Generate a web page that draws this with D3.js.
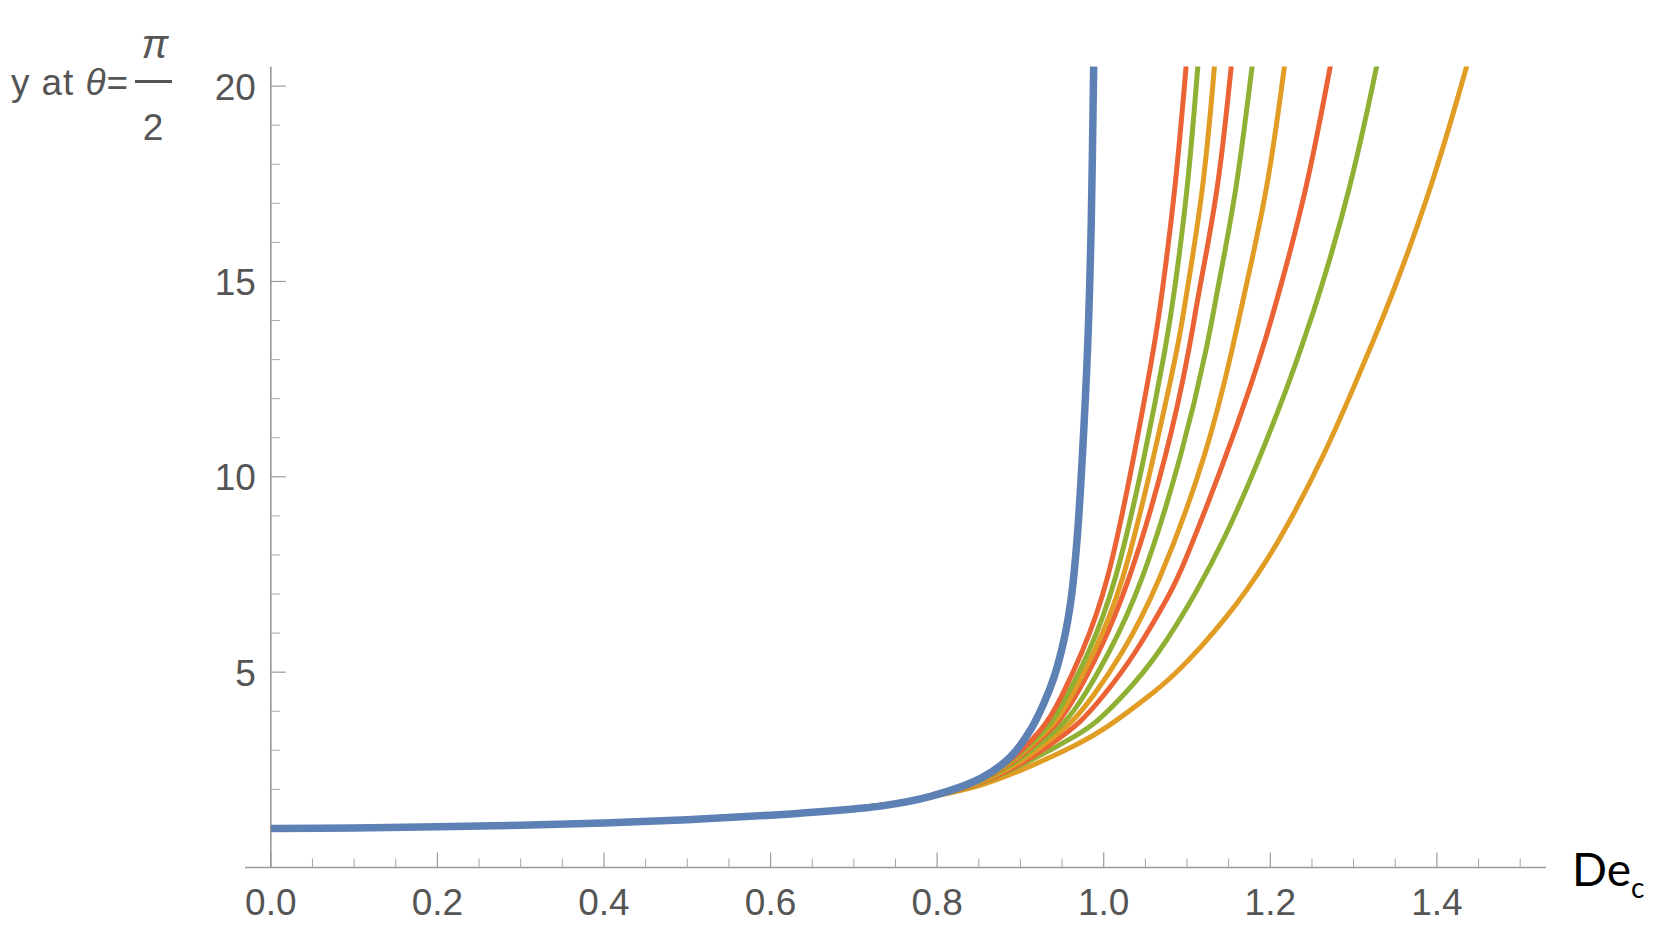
<!DOCTYPE html>
<html>
<head>
<meta charset="utf-8">
<script src="https://cdn.jsdelivr.net/npm/d3@7"></script>
<style>
    body{margin:0;background:#fff;}
    text{font-family:"Liberation Sans",Arial,sans-serif;}
</style>
</head>
<body>
<div class="content"></div>
<script>
const SVGWIDTH = 1673;
const SVGHEIGHT = 949;

// tick values
const x_major = [0.0,0.2,0.4,0.6,0.8,1.0,1.2,1.4];
const x_minor = [0.05,0.1,0.15,0.25,0.3,0.35,0.45,0.5,0.55,0.65,0.7,0.75,0.85,0.9,0.95,1.05,1.1,1.15,1.25,1.3,1.35,1.45,1.5];
const y_major = [5,10,15,20];
const y_minor = [1,2,3,4,6,7,8,9,11,12,13,14,16,17,18,19];

// curves, [De_c, y]
const common_start = [[0,1.0],[0.2,1.04],[0.4,1.13],[0.6,1.33],[0.7,1.50],[0.76,1.66],[0.8,1.84]];
const curve_red_1 = [[0.85,2.22],[0.888,2.72],[0.912,3.22],[0.932,3.69],[0.95,4.4],[0.972,5.39],[1.004,7.10],[1.038,10.68],[1.062,13.5],[1.069,14.52],[1.086,17.34],[1.099,20.51],[1.102,21.3]];
const curve_green_1 = [[0.85,2.2],[0.89,2.72],[0.914,3.2],[0.938,3.69],[0.956,4.4],[0.980,5.39],[1.013,7.10],[1.051,10.68],[1.076,13.5],[1.0835,14.52],[1.101,17.34],[1.113,20.51],[1.116,21.3]];
const curve_orange_1 = [[0.85,2.19],[0.892,2.72],[0.916,3.2],[0.942,3.69],[0.962,4.4],[0.986,5.39],[1.022,7.10],[1.062,10.68],[1.091,13.5],[1.098,14.52],[1.120,17.34],[1.133,20.51],[1.136,21.3]];
const curve_red_2 = [[0.85,2.18],[0.894,2.72],[0.919,3.2],[0.946,3.69],[0.967,4.4],[0.992,5.39],[1.028,7.10],[1.078,10.68],[1.105,13.5],[1.112,14.52],[1.138,17.34],[1.153,20.51],[1.157,21.3]];
const curve_green_2 = [[0.85,2.16],[0.896,2.7],[0.923,3.18],[0.954,3.69],[0.977,4.4],[1.004,5.39],[1.044,7.10],[1.096,10.68],[1.126,13.5],[1.134,14.52],[1.160,17.34],[1.178,20.51],[1.183,21.3]];
const curve_orange_2 = [[0.85,2.14],[0.898,2.66],[0.928,3.15],[0.962,3.69],[0.988,4.4],[1.020,5.39],[1.064,7.10],[1.126,10.68],[1.157,13.5],[1.167,14.52],[1.197,17.34],[1.217,20.51],[1.222,21.3]];
const curve_red_3 = [[0.85,2.12],[0.9,2.63],[0.933,3.1],[0.972,3.69],[1.0,4.4],[1.036,5.39],[1.082,7.10],[1.092,7.53],[1.144,10.34],[1.179,12.48],[1.194,13.5],[1.208,14.52],[1.244,17.34],[1.272,20.51],[1.279,21.3]];
const curve_green_3 = [[0.85,2.1],[0.912,2.72],[0.972,3.43],[0.990,3.69],[1.024,4.4],[1.064,5.39],[1.113,7.10],[1.146,8.46],[1.180,10.09],[1.224,12.48],[1.240,13.5],[1.257,14.52],[1.296,17.34],[1.328,20.51],[1.335,21.3]];
const curve_orange_3 = [[0.852,2.07],[0.912,2.58],[0.972,3.18],[1.002,3.55],[1.054,4.37],[1.086,4.95],[1.118,5.67],[1.146,6.37],[1.172,7.1],[1.196,7.87],[1.218,8.64],[1.264,10.51],[1.304,12.48],[1.324,13.5],[1.344,14.52],[1.393,17.34],[1.436,20.51],[1.446,21.3]];
const curve_blue = [[0,1.00],[0.1,1.01],[0.2,1.04],[0.3,1.08],[0.4,1.14],[0.5,1.22],[0.6,1.34],[0.7,1.50],[0.732,1.57],[0.792,1.82],[0.852,2.28],[0.888,2.83],[0.912,3.52],[0.928,4.2],[0.94,4.85],[0.952,5.8],[0.961,6.9],[0.968,8.4],[0.974,10.4],[0.981,13.5],[0.985,16.5],[0.988,20.6],[0.989,21.5]];

const thin_curves = [
    {"data":curve_orange_3,"color":"#E19C24"},
    {"data":curve_green_3,"color":"#8FB032"},
    {"data":curve_red_3,"color":"#EB6235"},
    {"data":curve_orange_2,"color":"#E19C24"},
    {"data":curve_green_2,"color":"#8FB032"},
    {"data":curve_red_2,"color":"#EB6235"},
    {"data":curve_orange_1,"color":"#E19C24"},
    {"data":curve_green_1,"color":"#8FB032"},
    {"data":curve_red_1,"color":"#EB6235"}
];

let svg = d3.select(".content").append("svg").attr("width",SVGWIDTH).attr("height",SVGHEIGHT).attr("id","plot");

let xscale = d3.scaleLinear().domain([-0.031,1.531]).range([245,1546]);
let yscale = d3.scaleLinear().domain([0,20.5]).range([867.5,66.6]);

// clip so curves stop at the top of the plot range
svg.append("clipPath").attr("id","clip").append("rect")
    .attr("x",xscale(-0.031)).attr("y",yscale(20.5))
    .attr("width",xscale(1.531)-xscale(-0.031)).attr("height",yscale(0)-yscale(20.5));

let axis_group = svg.append("g").attr("id","axes");

//x-axis line + ticks
axis_group.append("line").attr("x1",xscale(-0.031)).attr("x2",xscale(1.531))
    .attr("y1",yscale(0)).attr("y2",yscale(0)).attr("stroke","#9a9a9a").attr("stroke-width",1.6);
axis_group.selectAll(".xmajor").data(x_major).join("line").classed("xmajor",true)
    .attr("x1",d=>xscale(d)).attr("x2",d=>xscale(d))
    .attr("y1",yscale(0)).attr("y2",yscale(0)-15).attr("stroke","#9a9a9a").attr("stroke-width",1.2);
axis_group.selectAll(".xminor").data(x_minor).join("line").classed("xminor",true)
    .attr("x1",d=>xscale(d)).attr("x2",d=>xscale(d))
    .attr("y1",yscale(0)).attr("y2",yscale(0)-9).attr("stroke","#a5a5a5").attr("stroke-width",1);
axis_group.selectAll(".xlabel").data(x_major).join("text").classed("xlabel",true)
    .attr("x",d=>xscale(d)).attr("y",yscale(0)+47)
    .attr("text-anchor","middle").attr("font-size",37).attr("fill","#555")
    .text(d=>d.toFixed(1));

//y-axis line + ticks
axis_group.append("line").attr("x1",xscale(0)).attr("x2",xscale(0))
    .attr("y1",yscale(0)).attr("y2",yscale(20.5)).attr("stroke","#9a9a9a").attr("stroke-width",1.6);
axis_group.selectAll(".ymajor").data(y_major).join("line").classed("ymajor",true)
    .attr("x1",xscale(0)).attr("x2",xscale(0)+15)
    .attr("y1",d=>yscale(d)).attr("y2",d=>yscale(d)).attr("stroke","#9a9a9a").attr("stroke-width",1.2);
axis_group.selectAll(".yminor").data(y_minor).join("line").classed("yminor",true)
    .attr("x1",xscale(0)).attr("x2",xscale(0)+9)
    .attr("y1",d=>yscale(d)).attr("y2",d=>yscale(d)).attr("stroke","#a5a5a5").attr("stroke-width",1);
axis_group.selectAll(".ylabel").data(y_major).join("text").classed("ylabel",true)
    .attr("x",xscale(0)-15).attr("y",d=>yscale(d)+13.5)
    .attr("text-anchor","end").attr("font-size",37).attr("fill","#555")
    .text(d=>d);

//curves (thin ones smoothed, blue on top)
let thin_line = d3.line().x(d=>xscale(d[0])).y(d=>yscale(d[1])).curve(d3.curveBasis);
let blue_line = d3.line().x(d=>xscale(d[0])).y(d=>yscale(d[1])).curve(d3.curveCatmullRom.alpha(0.5));
let curve_group = svg.append("g").attr("id","curves").attr("clip-path","url(#clip)");
curve_group.selectAll(".thin").data(thin_curves).join("path").classed("thin",true)
    .attr("d",d=>thin_line(common_start.concat(d.data)))
    .attr("fill","none").attr("stroke",d=>d.color).attr("stroke-width",5)
    .attr("stroke-linejoin","round");
curve_group.append("path").attr("d",blue_line(curve_blue))
    .attr("fill","none").attr("stroke","#5E81B5").attr("stroke-width",7.5)
    .attr("stroke-linejoin","round");

//y-axis label: y at θ = π/2
let ylab = svg.append("g").attr("id","ylab").attr("fill","#555");
let t = ylab.append("text").attr("x",11).attr("y",95).attr("font-size",37)
    .attr("textLength",117).attr("lengthAdjust","spacing");
t.append("tspan").text("y at ");
t.append("tspan").attr("font-style","italic").text("θ");
t.append("tspan").text("=");
ylab.append("line").attr("x1",135).attr("x2",172).attr("y1",81.5).attr("y2",81.5)
    .attr("stroke","#555").attr("stroke-width",3);
ylab.append("text").attr("x",155).attr("y",58).attr("text-anchor","middle")
    .attr("font-size",40).attr("font-style","italic").text("π");
ylab.append("text").attr("x",153).attr("y",140).attr("text-anchor","middle")
    .attr("font-size",37).text("2");

//x-axis label De_c
let xlab = svg.append("text").attr("x",1572).attr("y",886).attr("fill","#000")
    .style("font-family","Lato, 'Open Sans', sans-serif");
xlab.append("tspan").attr("font-size",46).text("De");
xlab.append("tspan").attr("font-size",28).attr("dy",12).text("c");
</script>
</body>
</html>
